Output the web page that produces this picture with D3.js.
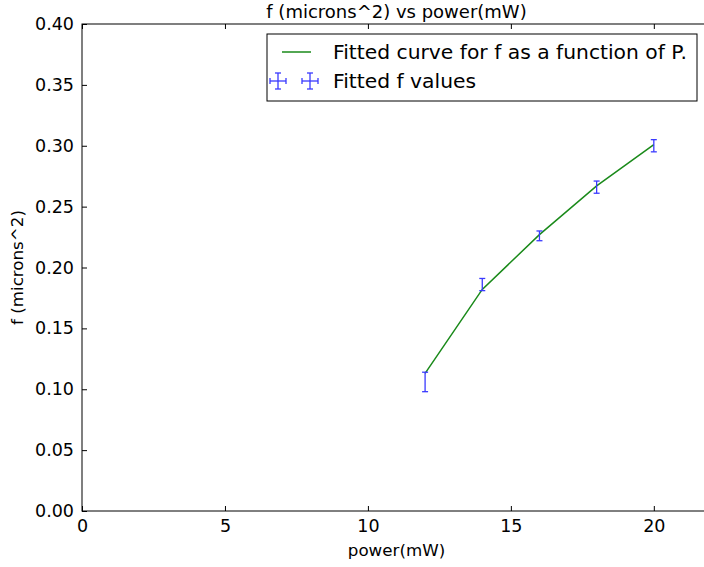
<!DOCTYPE html>
<html>
<head>
<meta charset="utf-8">
<script src="https://cdn.jsdelivr.net/npm/d3@7"></script>
<style>
  body { margin: 0; background: #fff; }
  svg text { font-family: "DejaVu Sans", sans-serif; }
  .tick text { font-size: 17.5px; fill: #000; font-family: "DejaVu Sans", sans-serif; }
  .tick line { stroke: #000; }
</style>
</head>
<body>
<div id="chart"></div>
<script>
// data
const powers = [12, 14, 16, 18, 20];
const fitted = [0.113, 0.182, 0.227, 0.267, 0.301];
const fValues = [0.106, 0.186, 0.226, 0.266, 0.300];
const fErrors = [0.008, 0.005, 0.004, 0.005, 0.005];
const xTicks = [0, 5, 10, 15, 20];
const yTicks = [0, 0.05, 0.1, 0.15, 0.2, 0.25, 0.3, 0.35, 0.4];

const margin = {top: 24, right: -7, bottom: 56, left: 82},
    width = 704 - margin.left - margin.right,
    height = 567 - margin.top - margin.bottom;

const svg = d3.select("#chart")
    .append("svg")
    .attr("width", 704)
    .attr("height", 567)
    .append("g")
    .attr("transform", `translate(${margin.left},${margin.top})`);

const x = d3.scaleLinear().domain([0, 22]).range([0, width]);
const y = d3.scaleLinear().domain([0, 0.4]).range([height, 0]);

// axes, ticks pointing inward
svg.append("g")
    .attr("transform", `translate(0,${height})`)
    .call(d3.axisBottom(x).tickValues(xTicks).tickSizeInner(-5).tickSizeOuter(0).tickPadding(9))
    .call(g => g.select(".domain").remove());
svg.append("g")
    .call(d3.axisTop(x).tickValues(xTicks).tickSizeInner(-5).tickSizeOuter(0).tickFormat(""))
    .call(g => g.select(".domain").remove());
svg.append("g")
    .call(d3.axisLeft(y).tickValues(yTicks).tickSizeInner(-5).tickSizeOuter(0).tickPadding(8).tickFormat(d3.format(".2f")))
    .call(g => g.select(".domain").remove());
svg.append("g")
    .attr("transform", `translate(${width},0)`)
    .call(d3.axisRight(y).tickValues(yTicks).tickSizeInner(-5).tickSizeOuter(0).tickFormat(""))
    .call(g => g.select(".domain").remove());

svg.append("rect")
    .attr("width", width)
    .attr("height", height)
    .attr("fill", "none")
    .attr("stroke", "#000")
    .attr("stroke-width", 1);

// fitted curve
svg.append("path")
    .datum(powers.map((p, i) => [p, fitted[i]]))
    .attr("fill", "none")
    .attr("stroke", "#1a8a1a")
    .attr("stroke-width", 1.5)
    .attr("d", d3.line().x(d => x(d[0])).y(d => y(d[1])));

// error bars
const eb = svg.append("g")
    .attr("stroke", "#3a3aff")
    .attr("stroke-width", 1.3)
    .selectAll("g")
    .data(powers.map((p, i) => ({p, v: fValues[i], e: fErrors[i]})))
    .join("g");
eb.append("line")
    .attr("x1", d => x(d.p)).attr("x2", d => x(d.p))
    .attr("y1", d => y(d.v - d.e)).attr("y2", d => y(d.v + d.e));
eb.append("line")
    .attr("x1", d => x(d.p) - 3).attr("x2", d => x(d.p) + 3)
    .attr("y1", d => y(d.v - d.e)).attr("y2", d => y(d.v - d.e));
eb.append("line")
    .attr("x1", d => x(d.p) - 3).attr("x2", d => x(d.p) + 3)
    .attr("y1", d => y(d.v + d.e)).attr("y2", d => y(d.v + d.e));

// titles
svg.append("text")
    .attr("x", width / 2)
    .attr("y", -6)
    .attr("text-anchor", "middle")
    .style("font-size", "18px")
    .text("f (microns^2) vs power(mW)");

svg.append("text")
    .attr("x", width / 2)
    .attr("y", height + 45)
    .attr("text-anchor", "middle")
    .style("font-size", "16.7px")
    .text("power(mW)");

svg.append("text")
    .attr("transform", "rotate(-90)")
    .attr("x", -height / 2)
    .attr("y", -59)
    .attr("text-anchor", "middle")
    .style("font-size", "16.7px")
    .text("f (microns^2)");

// legend
const lg = svg.append("g").attr("transform", "translate(185,10)");
lg.append("rect")
    .attr("width", 430)
    .attr("height", 67)
    .attr("fill", "#fff")
    .attr("stroke", "#000");
lg.append("line")
    .attr("x1", 15).attr("x2", 44)
    .attr("y1", 18).attr("y2", 18)
    .attr("stroke", "#1a8a1a")
    .attr("stroke-width", 1.5);
lg.append("text")
    .attr("x", 66).attr("y", 25)
    .style("font-size", "20.3px")
    .text("Fitted curve for f as a function of P.");
[11, 43].forEach(cx => {
    const c = lg.append("g").attr("stroke", "#3a3aff").attr("stroke-width", 1.3);
    c.append("line").attr("x1", cx - 8).attr("x2", cx + 8).attr("y1", 47).attr("y2", 47);
    c.append("line").attr("x1", cx - 8).attr("x2", cx - 8).attr("y1", 44).attr("y2", 50);
    c.append("line").attr("x1", cx + 8).attr("x2", cx + 8).attr("y1", 44).attr("y2", 50);
    c.append("line").attr("x1", cx).attr("x2", cx).attr("y1", 39).attr("y2", 55);
    c.append("line").attr("x1", cx - 3).attr("x2", cx + 3).attr("y1", 39).attr("y2", 39);
    c.append("line").attr("x1", cx - 3).attr("x2", cx + 3).attr("y1", 55).attr("y2", 55);
});
lg.append("text")
    .attr("x", 66).attr("y", 54)
    .style("font-size", "20.3px")
    .text("Fitted f values");
</script>
</body>
</html>
